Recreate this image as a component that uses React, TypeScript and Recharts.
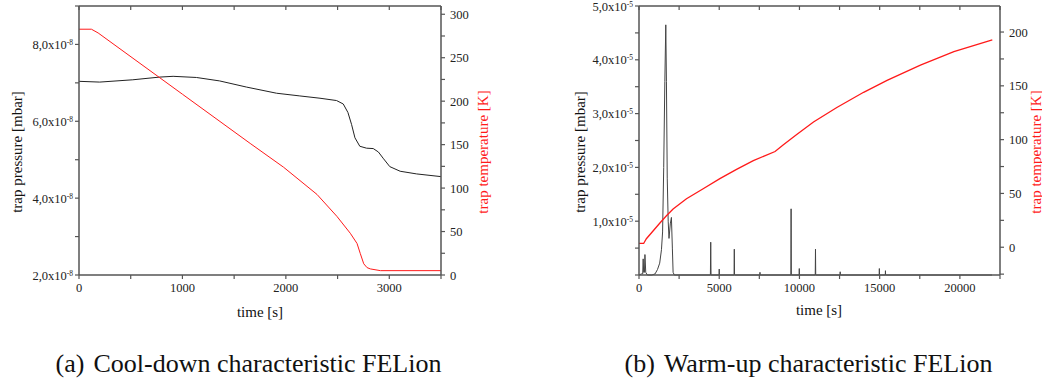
import React from 'react';
import { LineChart, Line, XAxis, YAxis } from 'recharts';

// (a) cool-down: pressure in units of 1e-8 mbar, temperature in K
const coolPressureTime = [0, 200, 520, 780, 910, 1135, 1360, 1620, 1910, 2135, 2330, 2490, 2555, 2600, 2635, 2668, 2715, 2780, 2845, 2895, 2940, 3005, 3105, 3265, 3500];
const coolPressure = [7.04, 7.02, 7.08, 7.15, 7.17, 7.14, 7.05, 6.89, 6.73, 6.66, 6.6, 6.54, 6.45, 6.23, 5.92, 5.57, 5.35, 5.3, 5.29, 5.2, 5.04, 4.82, 4.7, 4.63, 4.56];
const coolTempTime = [0, 120, 185, 1000, 1655, 1978, 2301, 2494, 2623, 2688, 2720, 2753, 2785, 2817, 2914, 3500];
const coolTemp = [282.8, 282.8, 278.5, 208, 151.4, 124, 92.7, 67.4, 48, 36.3, 24.6, 12.9, 8.5, 7, 5, 5];

// (b) warm-up: pressure in units of 1e-5 mbar, temperature in K
const warmPressureTime = [0, 150, 230, 260, 290, 340, 370, 420, 520, 800, 1000, 1150, 1290, 1400, 1470, 1540, 1610, 1670, 1710, 1760, 1820, 1870, 1950, 2020, 2080, 2125, 2200,
  4450, 4470, 4490, 4990, 5000, 5010, 5925, 5940, 5955, 7530, 7540, 7550, 9465, 9480, 9495, 9980, 9990, 10000, 10985, 11000, 11015, 12530, 12540, 12550, 14970, 14980, 14990, 15350, 15360, 15370, 22000];
const warmPressure = [0, 0.02, 0.02, 0.3, 0.05, 0.05, 0.38, 0.05, 0, 0, 0.02, 0.1, 0.22, 0.47, 0.8, 2.0, 3.6, 4.65, 3.6, 1.8, 1.0, 0.68, 0.95, 1.07, 0.5, 0.05, 0,
  0, 0.61, 0, 0, 0.11, 0, 0, 0.48, 0, 0, 0.05, 0, 0, 1.23, 0, 0, 0.12, 0, 0, 0.48, 0, 0, 0.06, 0, 0, 0.12, 0, 0, 0.08, 0, 0];
const warmTempTime = [0, 290, 460, 875, 1290, 1710, 2125, 2960, 4000, 5040, 6080, 7125, 8480, 9000, 9830, 10875, 12330, 14000, 15460, 17540, 19625, 22020];
const warmTemp = [3.5, 3.5, 7.9, 15.1, 22.3, 29.2, 35.5, 45, 54.4, 63.8, 72.3, 80.5, 89, 95.3, 104.7, 116.4, 129.9, 144, 155, 169.2, 181.8, 192.8];

// tick positions (majors get labels)
const coolTimeTicks = [0, 500, 1000, 1500, 2000, 2500, 3000, 3500];
const coolTimeMajors = [0, 1000, 2000, 3000];
const coolPressureTicks = [2, 3, 4, 5, 6, 7, 8, 9];
const coolPressureMajors = [2, 4, 6, 8];
const coolTempTicks = [0, 25, 50, 75, 100, 125, 150, 175, 200, 225, 250, 275, 300];
const coolTempMajors = [0, 50, 100, 150, 200, 250, 300];
const warmTimeTicks = [0, 2500, 5000, 7500, 10000, 12500, 15000, 17500, 20000, 22500];
const warmTimeMajors = [0, 5000, 10000, 15000, 20000];
const warmPressureTicks = [0, 0.5, 1, 1.5, 2, 2.5, 3, 3.5, 4, 4.5, 5];
const warmPressureMajors = [1, 2, 3, 4, 5];
const warmTempTicks = [-25, 0, 25, 50, 75, 100, 125, 150, 175, 200];
const warmTempMajors = [0, 50, 100, 150, 200];

const serif = "'Liberation Serif', 'Times New Roman', serif";
const axisColor = '#555';

function merge(tp: number[], p: number[], tt: number[], t: number[]) {
  const rows: any[] = [];
  tp.forEach((x, i) => rows.push({ time: x, pressure: p[i] }));
  tt.forEach((x, i) => rows.push({ time: x, temp: t[i] }));
  rows.sort((a, b) => a.time - b.time);
  return rows;
}

const coolData = merge(coolPressureTime, coolPressure, coolTempTime, coolTemp);
const warmData = merge(warmPressureTime, warmPressure, warmTempTime, warmTemp);

const pressureTick = (exp: string, majors: number[]) => (props: any) => {
  const { x, y, payload } = props;
  if (!majors.includes(payload.value)) return <g />;
  return (
    <text x={x} y={y} dy={4.5} textAnchor="end" style={{ fontFamily: serif }} fontSize={12.5} fill="#222">
      <tspan>{payload.value.toFixed(1).replace('.', ',')}x10</tspan>
      <tspan dy={-4} fontSize={7.5}>{exp}</tspan>
    </text>
  );
};

const xTick = (majors: number[]) => (props: any) => {
  const { x, y, payload } = props;
  if (!majors.includes(payload.value)) return <g />;
  return (
    <text x={x} y={y} dy="0.71em" textAnchor="middle" style={{ fontFamily: serif }} fontSize={12.5} fill="#222">
      {payload.value}
    </text>
  );
};

const rightTick = (majors: number[]) => (props: any) => {
  const { x, y, payload } = props;
  if (!majors.includes(payload.value)) return <g />;
  return (
    <text x={x} y={y} dy={4.5} textAnchor="start" style={{ fontFamily: serif }} fontSize={12.5} fill="#222">
      {payload.value}
    </text>
  );
};

const emptyTick = () => <g />;

const Rotated: React.FC<{ cx: number; cy: number; color?: string; children: React.ReactNode }> = ({ cx, cy, color, children }) => (
  <div
    style={{
      position: 'absolute',
      left: cx,
      top: cy,
      transform: 'translate(-50%, -50%) rotate(-90deg)',
      whiteSpace: 'nowrap',
      fontFamily: serif,
      fontSize: 15,
      color: color || '#111',
    }}
  >
    {children}
  </div>
);

const Centered: React.FC<{ cx: number; cy: number; size: number; children: React.ReactNode }> = ({ cx, cy, size, children }) => (
  <div
    style={{
      position: 'absolute',
      left: cx,
      top: cy,
      transform: 'translate(-50%, -50%)',
      whiteSpace: 'nowrap',
      fontFamily: serif,
      fontSize: size,
      color: '#111',
    }}
  >
    {children}
  </div>
);

const axisProps = { stroke: axisColor, strokeWidth: 1.5 };
const tickLineProps = { stroke: axisColor, strokeWidth: 1.2 };

export default function App() {
  return (
    <div style={{ position: 'absolute', left: 0, top: 0, width: 1042, height: 385, background: '#fff', overflow: 'hidden' }}>
      {/* (a) cool-down */}
      <div style={{ position: 'absolute', left: 0, top: 0 }}>
        <LineChart width={521} height={330} data={coolData} margin={{ top: 6, right: 0, bottom: 0, left: 0 }} style={{ overflow: 'visible' }}>
          <XAxis dataKey="time" type="number" domain={[0, 3500]} ticks={coolTimeTicks} interval={0} height={55}
            axisLine={axisProps} tickLine={tickLineProps} tickSize={4} tickMargin={4} tick={xTick(coolTimeMajors)} />
          <XAxis xAxisId="top" dataKey="time" type="number" orientation="top" domain={[0, 3500]} ticks={coolTimeTicks} interval={0} height={5}
            mirror axisLine={axisProps} tickLine={tickLineProps} tickSize={4} tick={emptyTick} />
          <YAxis yAxisId="p" type="number" domain={[2, 9]} ticks={coolPressureTicks} interval={0} width={79}
            axisLine={axisProps} tickLine={tickLineProps} tickSize={4} tickMargin={2} tick={pressureTick('-8', coolPressureMajors)} />
          <YAxis yAxisId="t" orientation="right" type="number" domain={[0, 309.5]} ticks={coolTempTicks} interval={0} width={80}
            axisLine={axisProps} tickLine={tickLineProps} tickSize={4} tickMargin={5} tick={rightTick(coolTempMajors)} />
          <Line yAxisId="p" dataKey="pressure" type="linear" stroke="#222" strokeWidth={1} dot={false} connectNulls isAnimationActive={false} />
          <Line yAxisId="t" dataKey="temp" type="linear" stroke="#ff1a1a" strokeWidth={1} dot={false} connectNulls isAnimationActive={false} />
        </LineChart>
      </div>
      <Rotated cx={17} cy={152}>trap pressure [mbar]</Rotated>
      <Rotated cx={483} cy={152} color="#ff1a1a">trap temperature [K]</Rotated>
      <Centered cx={260} cy={312} size={15}>time [s]</Centered>

      {/* (b) warm-up */}
      <div style={{ position: 'absolute', left: 520, top: 0 }}>
        <LineChart width={522} height={330} data={warmData} margin={{ top: 6, right: 0, bottom: 0, left: 0 }} style={{ overflow: 'visible' }}>
          <XAxis dataKey="time" type="number" domain={[0, 22500]} ticks={warmTimeTicks} interval={0} height={55}
            axisLine={axisProps} tickLine={tickLineProps} tickSize={4} tickMargin={4} tick={xTick(warmTimeMajors)} />
          <XAxis xAxisId="top" dataKey="time" type="number" orientation="top" domain={[0, 22500]} ticks={warmTimeTicks} interval={0} height={5}
            mirror axisLine={axisProps} tickLine={tickLineProps} tickSize={4} tick={emptyTick} />
          <YAxis yAxisId="p" type="number" domain={[0, 5]} ticks={warmPressureTicks} interval={0} width={119}
            axisLine={axisProps} tickLine={tickLineProps} tickSize={4} tickMargin={2} tick={pressureTick('-5', warmPressureMajors)} />
          <YAxis yAxisId="t" orientation="right" type="number" domain={[-25.8, 224.2]} ticks={warmTempTicks} interval={0} width={42}
            axisLine={axisProps} tickLine={tickLineProps} tickSize={4} tickMargin={5} tick={rightTick(warmTempMajors)} />
          <Line yAxisId="p" dataKey="pressure" type="linear" stroke="#444" strokeWidth={1} dot={false} connectNulls isAnimationActive={false} />
          <Line yAxisId="t" dataKey="temp" type="linear" stroke="#ff1a1a" strokeWidth={1.3} dot={false} connectNulls isAnimationActive={false} />
        </LineChart>
      </div>
      <Rotated cx={580} cy={152}>trap pressure [mbar]</Rotated>
      <Rotated cx={1036} cy={152} color="#ff1a1a">trap temperature [K]</Rotated>
      <Centered cx={819} cy={310} size={15}>time [s]</Centered>

      {/* captions */}
      <Centered cx={248.5} cy={364} size={26}>
        <span>(a)</span>
        <span style={{ marginLeft: 9 }}>Cool-down characteristic FELion</span>
      </Centered>
      <Centered cx={808.5} cy={364} size={26}>
        <span>(b)</span>
        <span style={{ marginLeft: 9 }}>Warm-up characteristic FELion</span>
      </Centered>
    </div>
  );
}
